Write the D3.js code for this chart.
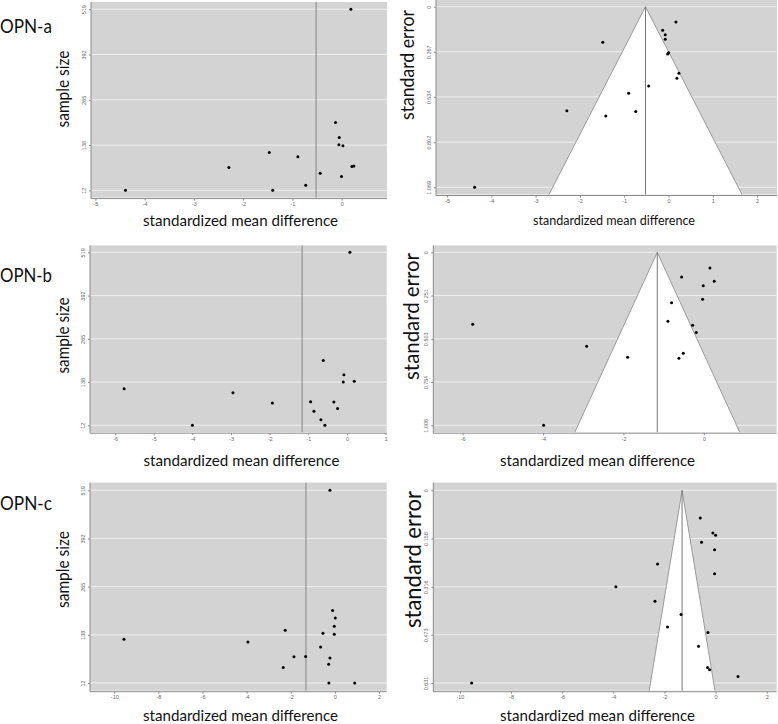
<!DOCTYPE html>
<html><head><meta charset="utf-8">
<script src="https://cdn.jsdelivr.net/npm/d3@7"></script>
<style>body{margin:0;background:#fff}svg{display:block}</style>
</head><body>
<script>
// ---------- data ----------
const rowLabels = ["OPN-a", "OPN-b", "OPN-c"];
const xLabel = "standardized mean difference";
const nLabel = "sample size";
const seLabel = "standard error";

const nTicks = [12, 138.75, 265.5, 392.25, 519];
const nTickLabels = ["12", "138", "265", "392", "519"];

// OPN-a
const aLeftSmd = [0.187, -0.125, -0.05, -0.057, 0.025, -1.47, -0.89, -2.29, 0.207, 0.247, -0.436, -0.004, -0.73, -4.39, -1.40];
const aLeftN   = [519, 202, 160, 140, 137, 118, 106, 76, 79, 80, 60, 51, 26, 12, 12];
const aRightSmd = [0.168, -0.132, -0.073, -0.073, -1.484, 0.003, -0.02, 0.235, 0.19, -0.447, -0.9, -2.295, -0.74, -1.416, -4.378];
const aRightSe  = [0.091, 0.140, 0.166, 0.193, 0.211, 0.272, 0.280, 0.394, 0.424, 0.469, 0.513, 0.616, 0.621, 0.647, 1.069];
const aPooled = -0.52;
const aSeTicks = [0, 0.267, 0.534, 0.802, 1.069];
const aSeTickLabels = ["0", "0.267", "0.534", "0.802", "1.069"];
const aLeftXTicks = [-5, -4, -3, -2, -1, 0];
const aRightXTicks = [-5, -4, -3, -2, -1, 0, 1, 2];

// OPN-b
const bLeftSmd = [0.077, -0.612, -0.078, -0.095, 0.19, -5.767, -2.95, -1.93, -0.94, -0.337, -0.241, -0.854, -0.673, -0.57, -4.0];
const bLeftN   = [519, 202, 160, 139, 141, 119, 107, 77, 81, 80, 61, 53, 28, 12, 12];
const bRightSmd = [0.149, -0.555, 0.257, -0.017, -0.033, -0.804, -0.895, -0.282, -0.191, -5.75, -2.917, -1.897, -0.514, -0.622, -3.986];
const bRightSe  = [0.091, 0.144, 0.169, 0.194, 0.273, 0.293, 0.401, 0.424, 0.467, 0.419, 0.547, 0.611, 0.587, 0.616, 1.006];
const bPooled = -1.16;
const bSeTicks = [0, 0.251, 0.503, 0.754, 1.006];
const bSeTickLabels = ["0", "0.251", "0.503", "0.754", "1.006"];
const bLeftXTicks = [-6, -5, -4, -3, -2, -1, 0, 1];
const bRightXTicks = [-6, -4, -2, 0];

// OPN-c
const cLeftSmd = [-0.222, -0.1, 0.018, -0.027, -0.027, -0.54, -2.25, -9.56, -3.94, -0.644, -1.854, -1.324, -0.222, -2.34, -0.28, -0.27, 0.9];
const cLeftN   = [519, 203, 183, 161, 140, 143, 151, 127, 120, 107, 81, 82, 78, 53, 61, 12, 12];
const cRightSmd = [-0.6, -0.105, 0.0, -0.55, -0.04, -0.04, -2.27, -3.9, -2.37, -1.35, -1.88, -0.30, -0.667, -0.314, -0.235, 0.876, -9.54];
const cRightSe  = [0.091, 0.140, 0.147, 0.170, 0.195, 0.273, 0.241, 0.316, 0.363, 0.407, 0.448, 0.466, 0.511, 0.580, 0.588, 0.610, 0.631];
const cPooled = -1.31;
const cSeTicks = [0, 0.158, 0.316, 0.473, 0.631];
const cSeTickLabels = ["0", "0.158", "0.316", "0.473", "0.631"];
const cXTicks = [-10, -8, -6, -4, -2, 0, 2];

// ---------- layout ----------
const W = 778, H = 724;
const svg = d3.select("body").append("svg").attr("width", W).attr("height", H)
  .style("font-family", "Lato, 'Open Sans', sans-serif");

const BG = "#d3d3d3", GRID = "#efefef", AXIS = "#8a8a8a", TICKTXT = "#6a6a6a";

function pad(lo, hi) { const p = (hi - lo) * 0.04; return [lo - p, hi + p]; }

function panel(o) {
  const g = svg.append("g");
  const x = d3.scaleLinear().domain(o.xDomain).range([o.x0, o.x1]);
  const y = o.funnel
    ? d3.scaleLinear().domain(pad(0, o.yTicks[o.yTicks.length - 1])).range([o.y0, o.y1])
    : d3.scaleLinear().domain(pad(o.yTicks[0], o.yTicks[o.yTicks.length - 1])).range([o.y1, o.y0]);

  g.append("rect").attr("x", o.x0).attr("y", o.y0).attr("width", o.x1 - o.x0).attr("height", o.y1 - o.y0).attr("fill", BG);
  g.selectAll(".grid").data(o.yTicks).join("line")
    .attr("x1", o.x0).attr("x2", o.x1).attr("y1", d => y(d)).attr("y2", d => y(d))
    .attr("stroke", GRID).attr("stroke-width", 1);

  if (o.funnel) {
    const seB = y.domain()[1];
    const pts = [[o.pooled, 0], [o.pooled - 1.96 * seB, seB], [o.pooled + 1.96 * seB, seB]];
    g.append("path").attr("d", d3.line().x(d => x(d[0])).y(d => y(d[1]))(pts) + "Z")
      .attr("fill", "#fff").attr("stroke", "none");
    g.append("path").attr("d", d3.line().x(d => x(d[0])).y(d => y(d[1]))([pts[1], pts[0], pts[2]]))
      .attr("fill", "none").attr("stroke", "#9a9a9a").attr("stroke-width", 1);
    g.append("line").attr("x1", x(o.pooled)).attr("x2", x(o.pooled)).attr("y1", y(0)).attr("y2", o.y1)
      .attr("stroke", "#777").attr("stroke-width", 1);
  } else {
    g.append("line").attr("x1", x(o.pooled)).attr("x2", x(o.pooled)).attr("y1", o.y0).attr("y2", o.y1)
      .attr("stroke", "#858585").attr("stroke-width", 1);
  }

  // axes
  const xa = g.append("g").attr("transform", `translate(0,${o.y1 + 1})`)
    .call(d3.axisBottom(x).tickValues(o.xTicks).tickSize(2).tickSizeOuter(0).tickFormat(d3.format("d")));
  xa.select(".domain").attr("d", `M${o.x0},0H${o.x1}`).attr("stroke", AXIS);
  xa.selectAll(".tick line").attr("stroke", AXIS);
  xa.selectAll(".tick text").attr("fill", TICKTXT).attr("font-size", 5.5).attr("dy", "0.5em")
    .text(d => d < 0 ? "-" + Math.abs(d) : d);

  const ya = g.append("g").attr("transform", `translate(${o.x0},0)`)
    .call(d3.axisLeft(y).tickValues(o.yTicks).tickSize(2).tickSizeOuter(0).tickFormat((d, i) => o.yTickLabels[i]));
  ya.select(".domain").attr("d", `M0,${o.y0}V${o.y1 + 1}`).attr("stroke", AXIS);
  ya.selectAll(".tick line").attr("stroke", AXIS);
  ya.selectAll(".tick text").attr("fill", TICKTXT).attr("font-size", 5.5)
    .attr("x", 0).attr("dy", 0).attr("text-anchor", "middle")
    .attr("transform", "translate(-5,0) rotate(-90)");

  // points
  g.selectAll(".pt").data(o.xs).join("circle")
    .attr("cx", d => x(d)).attr("cy", (d, i) => y(o.ys[i])).attr("r", 1.5).attr("fill", "#000");

  // labels
  g.append("text").attr("x", o.xLab[0]).attr("y", o.xLab[1]).attr("text-anchor", "middle")
    .attr("font-size", o.xLab[2]).attr("textLength", o.xLab[3]).attr("lengthAdjust", "spacingAndGlyphs")
    .attr("fill", "#111").text(xLabel);
  g.append("text").attr("transform", `translate(${o.yLab[0]},${o.yLab[1]}) rotate(-90)`).attr("text-anchor", "middle")
    .attr("font-size", o.yLab[2]).attr("textLength", o.yLab[3]).attr("lengthAdjust", "spacingAndGlyphs")
    .attr("fill", "#111").text(o.funnel ? seLabel : nLabel);
}

// row label texts
const rowLabelPos = [[0, 33], [0, 282], [0, 510]];
svg.selectAll(".rowlab").data(rowLabels).join("text")
  .attr("x", (d, i) => rowLabelPos[i][0]).attr("y", (d, i) => rowLabelPos[i][1])
  .attr("font-size", 20).attr("textLength", 52).attr("lengthAdjust", "spacingAndGlyphs")
  .attr("fill", "#111").text(d => d);

// OPN-a
panel({ x0: 91, x1: 387, y0: 2, y1: 197.6, xDomain: [-5.09, 0.92], xTicks: aLeftXTicks,
  yTicks: nTicks, yTickLabels: nTickLabels, xs: aLeftSmd, ys: aLeftN, pooled: aPooled,
  xLab: [240.5, 226, 16, 195], yLab: [69, 89, 16.5, 77] });
panel({ funnel: true, x0: 436, x1: 777, y0: -0.5, y1: 194.5, xDomain: [-5.25, 2.45], xTicks: aRightXTicks,
  yTicks: aSeTicks, yTickLabels: aSeTickLabels, xs: aRightSmd, ys: aRightSe, pooled: aPooled,
  xLab: [614, 225, 13.5, 162], yLab: [414, 65, 18.5, 110] });

// OPN-b
panel({ x0: 90, x1: 386.7, y0: 245.4, y1: 432.2, xDomain: [-6.65, 1.03], xTicks: bLeftXTicks,
  yTicks: nTicks, yTickLabels: nTickLabels, xs: bLeftSmd, ys: bLeftN, pooled: bPooled,
  xLab: [241.5, 466, 16, 196], yLab: [69, 335.5, 16.5, 76] });
panel({ funnel: true, x0: 433.3, x1: 776.7, y0: 245.4, y1: 432.2, xDomain: [-6.73, 1.81], xTicks: bRightXTicks,
  yTicks: bSeTicks, yTickLabels: bSeTickLabels, xs: bRightSmd, ys: bRightSe, pooled: bPooled,
  xLab: [597.5, 466, 16, 195], yLab: [419, 316.5, 21.5, 127] });

// OPN-c
panel({ x0: 90, x1: 386.7, y0: 482.6, y1: 690.7, xDomain: [-11.1, 2.35], xTicks: cXTicks,
  yTicks: nTicks, yTickLabels: nTickLabels, xs: cLeftSmd, ys: cLeftN, pooled: cPooled,
  xLab: [240.5, 721, 16, 195], yLab: [69, 569.5, 16.5, 77] });
panel({ funnel: true, x0: 433.3, x1: 776.7, y0: 482.6, y1: 690.7, xDomain: [-11.04, 2.39], xTicks: cXTicks,
  yTicks: cSeTicks, yTickLabels: cSeTickLabels, xs: cRightSmd, ys: cRightSe, pooled: cPooled,
  xLab: [597.5, 721, 16, 195], yLab: [421, 559.5, 23, 137] });
</script>
</body></html>
